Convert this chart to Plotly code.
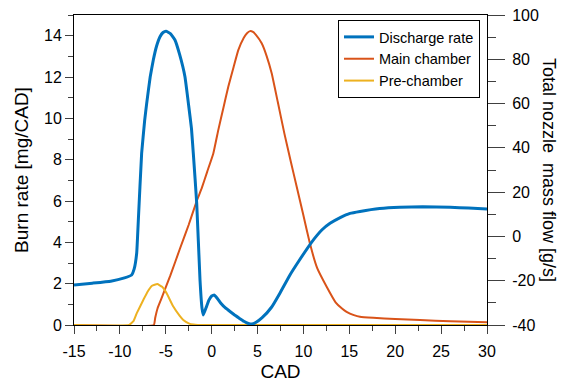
import plotly.graph_objects as go

# ---- data ----
discharge_cad = [-15, -13, -11, -9.5, -8.72, -8.45, -8.17, -7.99, -7.63, -7.3, -7.08, -6.7, -6.36,
                 -6.0, -5.63, -5.3, -4.98, -4.5, -4.0, -3.5, -2.91, -2.5, -2.2, -2.0, -1.63, -1.27,
                 -1.05, -0.91, -0.6, -0.3, 0.0, 0.29, 0.6, 1.0, 1.5, 2.0, 2.5, 3.0, 3.5, 4.0, 4.36,
                 4.8, 5.5, 6.5, 7.45, 8.5, 9.5, 10.8, 12.0, 12.9, 14.0, 15.07, 16.16, 18.3, 20.5,
                 23.0, 26.0, 28.0, 30.0]
discharge_gs = [-21.9, -21.1, -20.2, -18.7, -17.4, -14.8, -7.6, 7.4, 37.5, 52.4, 60.1, 72.0, 79.7,
                86.0, 90.2, 92.1, 92.7, 91.6, 88.7, 82.3, 72.1, 58.9, 48.7, 37.5, 15.0, -19.7,
                -32.5, -35.5, -32.1, -28.8, -26.9, -26.5, -27.9, -30.2, -32.3, -33.9, -35.5, -36.9,
                -38.3, -39.3, -39.6, -38.9, -36.7, -32.1, -25.5, -17.6, -11.1, -3.1, 2.9, 5.9, 8.5,
                10.4, 11.3, 12.6, 13.2, 13.4, 13.2, 12.8, 12.4]

main_cad = [-15, -6.3, -6.15, -5.9, -5.5, -4.5, -3.45, -2.5, -1.63, -1.09, -0.5, 0.18, 0.72, 1.3,
            1.81, 2.4, 2.9, 3.5, 3.85, 4.18, 4.5, 4.8, 5.45, 6.0, 6.54, 7.2, 7.92, 8.6, 9.26, 10.0,
            10.7, 11.5, 12.53, 13.5, 14.2, 14.7, 15.5, 16.16, 17.6, 20.0, 22.7, 26.0, 30.0]
main_rate = [0, 0, 0.35, 0.8, 1.25, 2.4, 3.7, 4.85, 6.0, 6.61, 7.4, 8.3, 9.43, 10.55,
             11.53, 12.5, 13.3, 13.9, 14.12, 14.22, 14.18, 14.05, 13.63, 13.0, 12.18, 10.8, 9.27,
             7.95, 6.7, 5.3, 3.95, 2.75, 1.85, 1.1, 0.8, 0.64, 0.48, 0.4, 0.35, 0.29, 0.24, 0.18, 0.13]

pre_cad = [-15, -9.0, -8.5, -8.17, -7.45, -7.0, -6.5, -5.93, -5.4, -4.9, -4.18, -3.5, -3.09, -2.5,
           -2.0, -1.5, 30]
pre_rate = [0, 0, 0.2, 0.56, 1.21, 1.6, 1.9, 1.98, 1.85, 1.53, 0.89, 0.45, 0.24, 0.08,
            0.02, 0, 0]

x_ticks = [-15, -10, -5, 0, 5, 10, 15, 20, 25, 30]
y_left_ticks = [0, 2, 4, 6, 8, 10, 12, 14]
y_right_ticks = [-40, -20, 0, 20, 40, 60, 80, 100]

BLUE = "#0072BD"
ORANGE = "#D95319"
YELLOW = "#EDB120"
FONT = "Liberation Sans, Arial, sans-serif"
TICKC = "#404040"

fig = go.Figure()
fig.add_trace(go.Scatter(x=discharge_cad, y=discharge_gs, name="Discharge rate", mode="lines",
                         line=dict(color=BLUE, width=3, shape="spline", smoothing=0.3), yaxis="y2"))
fig.add_trace(go.Scatter(x=main_cad, y=main_rate, name="Main chamber", mode="lines",
                         line=dict(color=ORANGE, width=2, shape="spline", smoothing=0.3)))
fig.add_trace(go.Scatter(x=pre_cad, y=pre_rate, name="Pre-chamber", mode="lines",
                         line=dict(color=YELLOW, width=2, shape="spline", smoothing=0.3)))

def txt(v):
    return str(v)

# The page body adds an 8 px offset, so the figure is 8 px smaller and left/top margins are trimmed.
fig.update_layout(
    width=558, height=375,
    margin=dict(l=66, r=79, t=7, b=58, autoexpand=False),
    paper_bgcolor="white", plot_bgcolor="white",
    font=dict(family=FONT, size=16, color="black"),
    showlegend=True,
    legend=dict(x=0.983, y=0.984, xanchor="right", yanchor="top",
                bgcolor="white", bordercolor="black", borderwidth=1,
                font=dict(size=14.5, family=FONT), tracegroupgap=0),
    xaxis=dict(range=[-15, 30], showline=True, linecolor="black", linewidth=1, mirror=True,
               automargin=False, ticklabeloverflow="allow", ticklabelstandoff=4,
               ticks="outside", ticklen=8, tickcolor=TICKC, tickmode="array",
               tickvals=x_ticks, ticktext=[txt(v) for v in x_ticks],
               minor=dict(ticks="outside", ticklen=5, tick0=-15, dtick=2.5, tickcolor=TICKC, showgrid=False),
               showgrid=False, zeroline=False, tickfont=dict(size=16),
               title=dict(text="CAD", font=dict(size=19), standoff=5)),
    yaxis=dict(range=[0, 15], showline=True, linecolor="black", linewidth=1, automargin=False,
               ticklabeloverflow="allow",
               ticks="outside", ticklen=8, tickcolor=TICKC, tickmode="array",
               tickvals=y_left_ticks, ticktext=[txt(v) for v in y_left_ticks],
               minor=dict(ticks="outside", ticklen=5, tick0=0, dtick=1, tickcolor=TICKC, showgrid=False),
               showgrid=False, zeroline=False, tickfont=dict(size=16),
               title=dict(text="Burn rate [mg/CAD]", font=dict(size=19), standoff=10)),
    yaxis2=dict(range=[-40, 100], overlaying="y", side="right", showline=True, linecolor="black",
                linewidth=1, automargin=False, ticklabeloverflow="allow", ticklabelstandoff=4,
                ticks="outside", ticklen=17, tickcolor=TICKC,
                tickmode="array", tickvals=y_right_ticks, ticktext=[txt(v) for v in y_right_ticks],
                minor=dict(ticks="outside", ticklen=8, tick0=-40, dtick=10, tickcolor=TICKC, showgrid=False),
                showgrid=False, zeroline=False, tickfont=dict(size=16)),
    annotations=[dict(text="Total nozzle\u00a0 mass flow [g/s]", textangle=90, xref="paper", yref="paper",
                      x=1, xshift=62, y=0.5, showarrow=False, font=dict(size=18, family=FONT),
                      xanchor="center", yanchor="middle")],
)

fig.write_html("out.html")
